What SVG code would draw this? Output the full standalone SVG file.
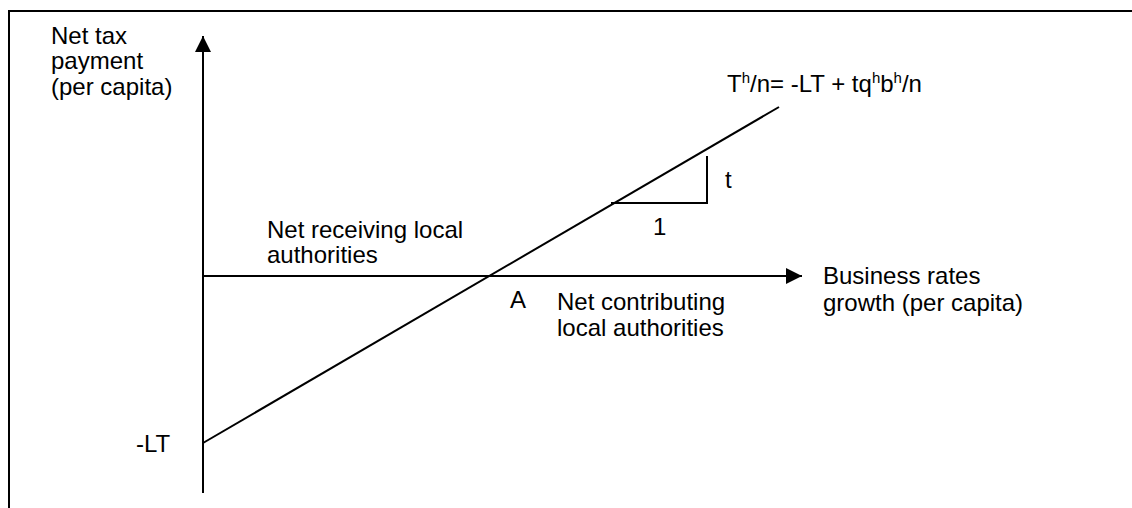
<svg xmlns="http://www.w3.org/2000/svg" width="1132" height="508" viewBox="0 0 1132 508">
<style>
text{font-family:"Liberation Sans",Arial,sans-serif;font-size:24px;fill:#000}
.ln{stroke:#000;stroke-width:2;fill:none}
.sup{font-size:15px}
</style>
<defs>
<marker id="ah" markerWidth="16" markerHeight="16" refX="16" refY="8" orient="auto" markerUnits="userSpaceOnUse">
<path d="M0,0 L16,8 L0,16 Z" fill="#000"/>
</marker>
</defs>
<rect width="1132" height="508" fill="#fff"/>
<g id="frame">
<path class="ln" d="M9,508 V11 H1132"/>
</g>
<g id="connectors">
<line class="ln" x1="203" y1="493" x2="203" y2="36" marker-end="url(#ah)"/>
<line class="ln" x1="203" y1="276" x2="802" y2="276" marker-end="url(#ah)"/>
<line class="ln" x1="203" y1="443" x2="779" y2="107"/>
<path class="ln" d="M611,203 H707 V156"/>
</g>
<g id="y-label">
<text x="51" y="44">Net tax</text>
<text x="51" y="69">payment</text>
<text x="51" y="95">(per capita)</text>
</g>
<g id="x-label">
<text x="823" y="284">Business rates</text>
<text x="823" y="311">growth (per capita)</text>
</g>
<g id="receiving">
<text x="267" y="238">Net receiving local</text>
<text x="267" y="263">authorities</text>
</g>
<g id="contributing">
<text x="557" y="310">Net contributing</text>
<text x="557" y="336">local authorities</text>
</g>
<g id="point-a"><text x="510" y="308">A</text></g>
<g id="intercept"><text x="136" y="452">-LT</text></g>
<g id="slope">
<text x="653" y="235">1</text>
<text x="725" y="188">t</text>
</g>
<g id="formula">
<text x="727" y="92">T<tspan class="sup" dy="-9">h</tspan><tspan dy="9">/n= -LT + tq</tspan><tspan class="sup" dy="-9">h</tspan><tspan dy="9">b</tspan><tspan class="sup" dy="-9">h</tspan><tspan dy="9">/n</tspan></text>
</g>
</svg>
